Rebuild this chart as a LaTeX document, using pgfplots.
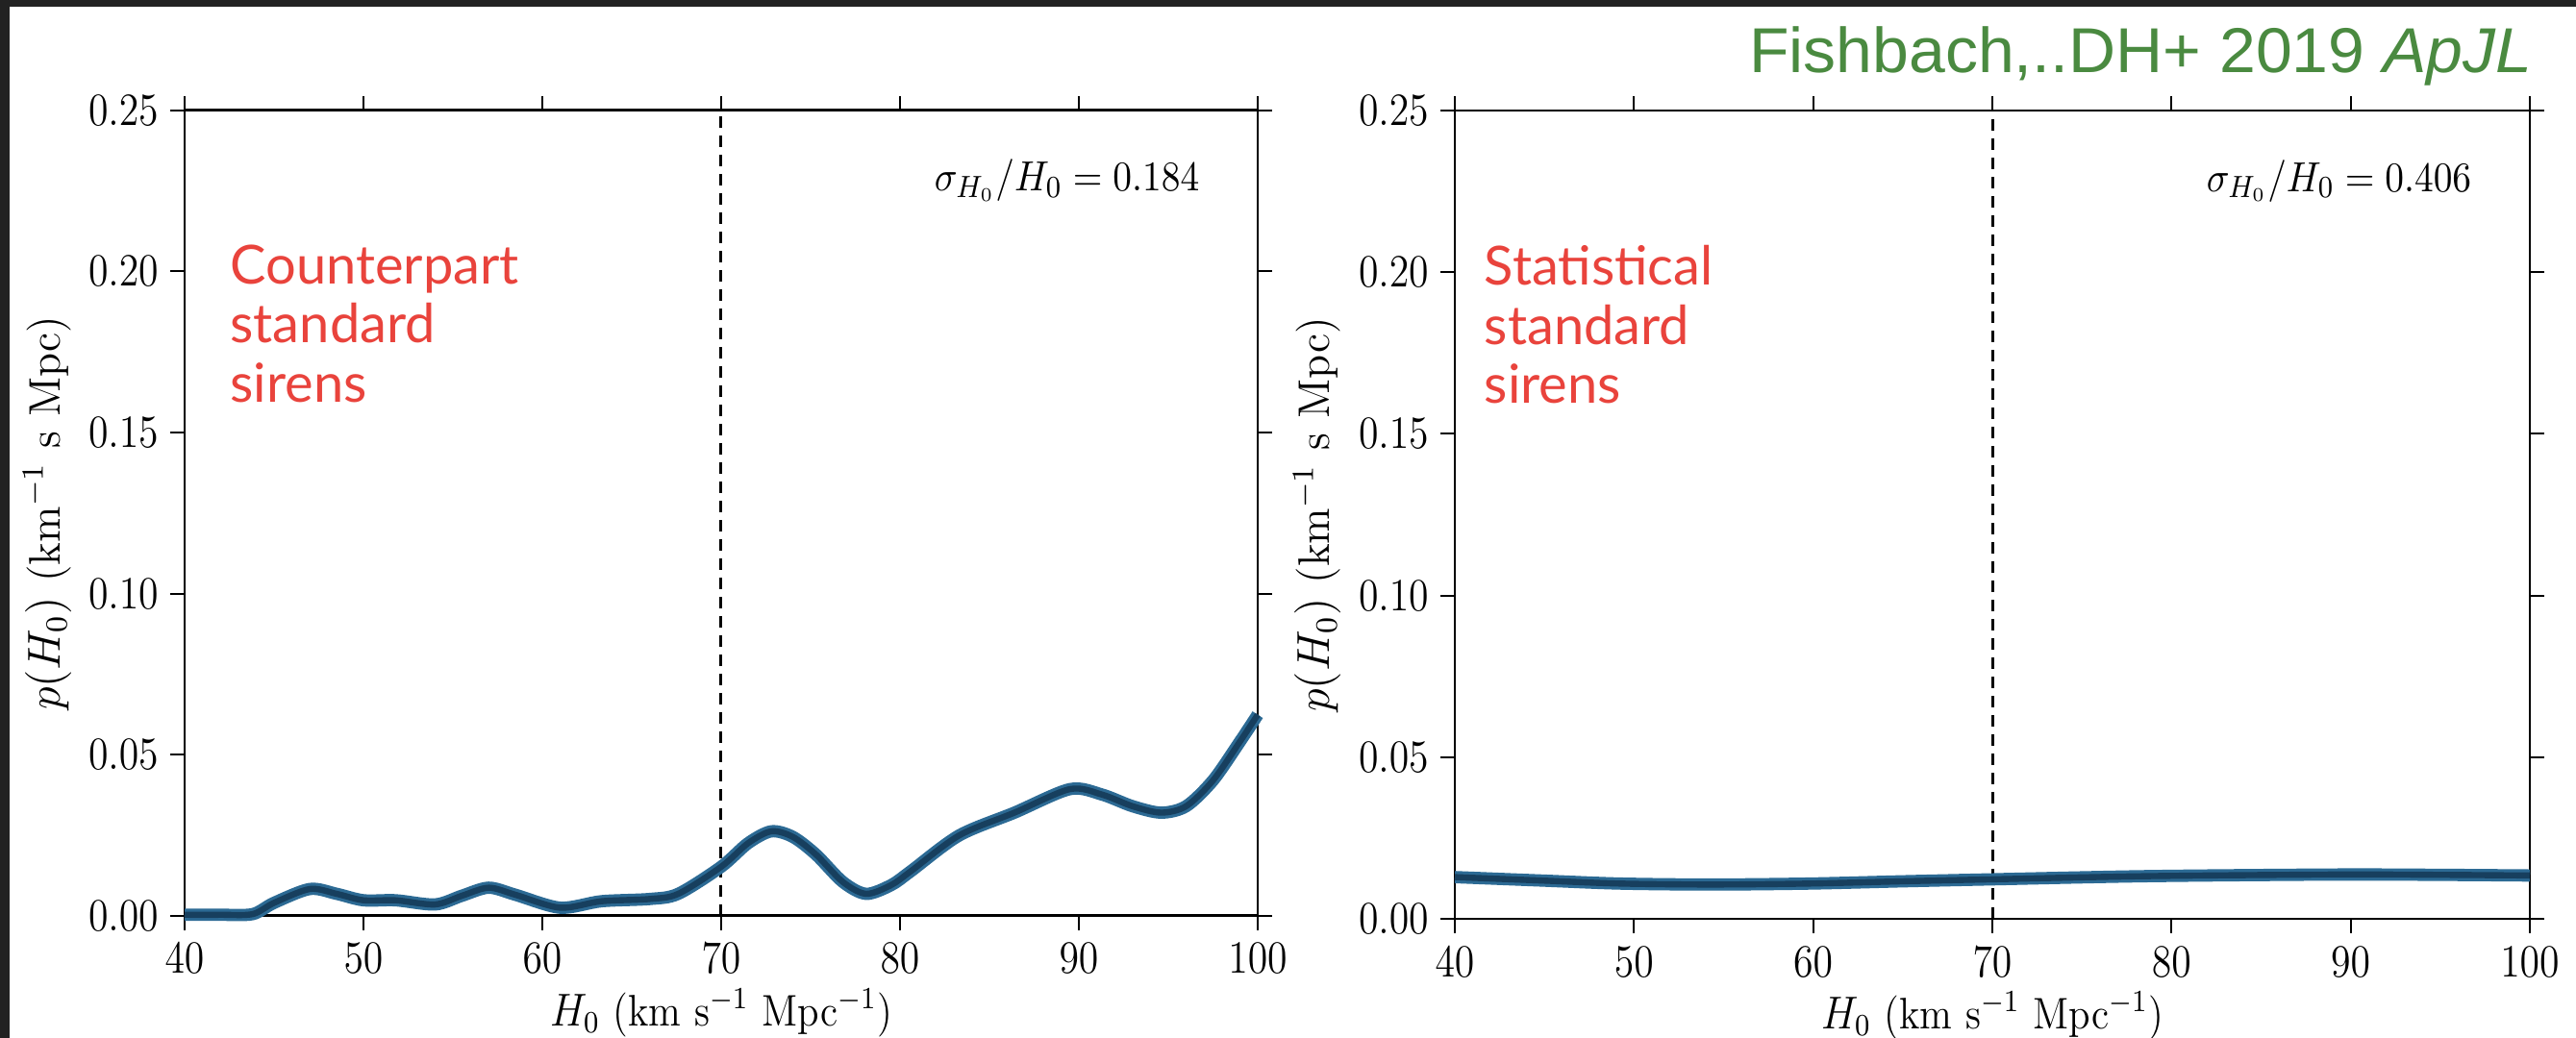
\documentclass[border=0pt]{standalone}
\usepackage{pgfplots}
\pgfplotsset{compat=1.18}
\usepackage{fontspec}
\newfontfamily\lato{Lato}
\newfontfamily\helv{Liberation Sans}
\definecolor{bg}{HTML}{222222}
\definecolor{curvelight}{HTML}{2C6A94}
\definecolor{curvedark}{HTML}{173F5E}
\definecolor{sred}{HTML}{E9433C}
\definecolor{sgreen}{HTML}{4A8A40}
\pgfplotsset{
  myaxis/.style={
    scale only axis, width=279pt, height=209.5pt,
    xmin=40, xmax=100, ymin=0, ymax=0.25,
    xtick={40,50,60,70,80,90,100},
    ytick={0,0.05,0.1,0.15,0.2,0.25},
    yticklabel style={/pgf/number format/fixed,/pgf/number format/fixed zerofill,/pgf/number format/precision=2},
    tick align=outside, major tick length=3.75pt,
    tick style={black, line width=0.5pt},
    axis line style={line width=0.7pt},
    ticklabel style={font=\fontsize{11.5}{13}\selectfont, xscale=0.87},
    label style={font=\fontsize{11.5}{13}\selectfont},
    xlabel={$H_0$ (km s$^{-1}$ Mpc$^{-1}$)},
    ylabel={$p(H_0)$ (km$^{-1}$ s Mpc)},
    xlabel style={at={(axis description cs:0.5,0)}, anchor=base, yshift=-28.6pt, xscale=0.9},
    ylabel style={at={(axis description cs:-0.128,0.5)}, anchor=center, rotate=0},
    clip=false,
  },
  vline/.style={black, line width=0.75pt, dash pattern=on 3pt off 2pt},
}
\begin{document}
\begin{tikzpicture}[x=1pt,y=1pt]
\fill[bg] (0pt,0pt) rectangle (669.75pt,270pt);
\fill[white] (2.5pt,0pt) rectangle (669.75pt,268.25pt);

\begin{axis}[myaxis, at={(48pt,31.8pt)}, anchor=south west]
\addplot[vline] coordinates {(70,0) (70,0.25)};
\addplot[curvelight, line width=3.2pt, smooth, tension=0.5] coordinates {
(40,0.0003) (42,0.0003) (43.8,0.0005) (45,0.004) (47,0.0083) (48.5,0.0068)
(50,0.0048) (51.8,0.0048) (54,0.0035) (55.5,0.0062) (57,0.0087) (58.5,0.0065)
(61,0.0025) (63.3,0.0045) (66,0.0052) (67.6,0.0068) (70,0.0152) (71.5,0.0225)
(72.8,0.0262) (74,0.0245) (75.3,0.019) (76.8,0.0105) (78.1,0.0068) (79.5,0.0095)
(80.6,0.0138) (83.3,0.0249) (86.4,0.032) (89.5,0.0393) (91.3,0.0376) (93,0.034)
(94.6,0.032) (96,0.034) (97.5,0.042) (99,0.054) (100,0.0624)};
\addplot[curvedark, line width=1.6pt, smooth, tension=0.5] coordinates {
(40,0.0003) (42,0.0003) (43.8,0.0005) (45,0.004) (47,0.0083) (48.5,0.0068)
(50,0.0048) (51.8,0.0048) (54,0.0035) (55.5,0.0062) (57,0.0087) (58.5,0.0065)
(61,0.0025) (63.3,0.0045) (66,0.0052) (67.6,0.0068) (70,0.0152) (71.5,0.0225)
(72.8,0.0262) (74,0.0245) (75.3,0.019) (76.8,0.0105) (78.1,0.0068) (79.5,0.0095)
(80.6,0.0138) (83.3,0.0249) (86.4,0.032) (89.5,0.0393) (91.3,0.0376) (93,0.034)
(94.6,0.032) (96,0.034) (97.5,0.042) (99,0.054) (100,0.0624)};
\node[anchor=base east, font=\fontsize{11}{13}\selectfont, xscale=0.9] at (rel axis cs:0.957,0.9) {$\sigma_{H_0}/H_0 = 0.184$};
\node[anchor=north west, align=left, font=\lato\fontsize{14}{15.4}\selectfont, text=sred] at (rel axis cs:0.03,0.85) {Counterpart\\standard\\sirens};
\end{axis}

\begin{axis}[myaxis, at={(378.25pt,31pt)}, anchor=south west, height=210.25pt, width=279.5pt]
\addplot[vline] coordinates {(70,0) (70,0.25)};
\addplot[curvelight, line width=3.2pt, smooth] coordinates {
(40,0.0129) (45,0.0118) (49.2,0.0109) (54.3,0.0106) (59.8,0.0109) (65,0.0116)
(69.9,0.0122) (78.7,0.0132) (89.2,0.0137) (95,0.0136) (100,0.0134)};
\addplot[curvedark, line width=1.6pt, smooth] coordinates {
(40,0.0129) (45,0.0118) (49.2,0.0109) (54.3,0.0106) (59.8,0.0109) (65,0.0116)
(69.9,0.0122) (78.7,0.0132) (89.2,0.0137) (95,0.0136) (100,0.0134)};
\node[anchor=base east, font=\fontsize{11}{13}\selectfont, xscale=0.9] at (rel axis cs:0.957,0.9) {$\sigma_{H_0}/H_0 = 0.406$};
\node[anchor=north west, align=left, font=\lato\fontsize{14}{15.4}\selectfont, text=sred] at (rel axis cs:0.015,0.85) {Statistical\\standard\\sirens};
\end{axis}

\node[anchor=base east, font=\helv\fontsize{16.5}{18}\selectfont, text=sgreen, xscale=1.03] at (662pt,251pt) {Fishbach,..DH+ 2019 \textit{ApJL}};

\pgfresetboundingbox
\path[use as bounding box] (0pt,0pt) rectangle (669.75pt,270pt);
\end{tikzpicture}
\end{document}
